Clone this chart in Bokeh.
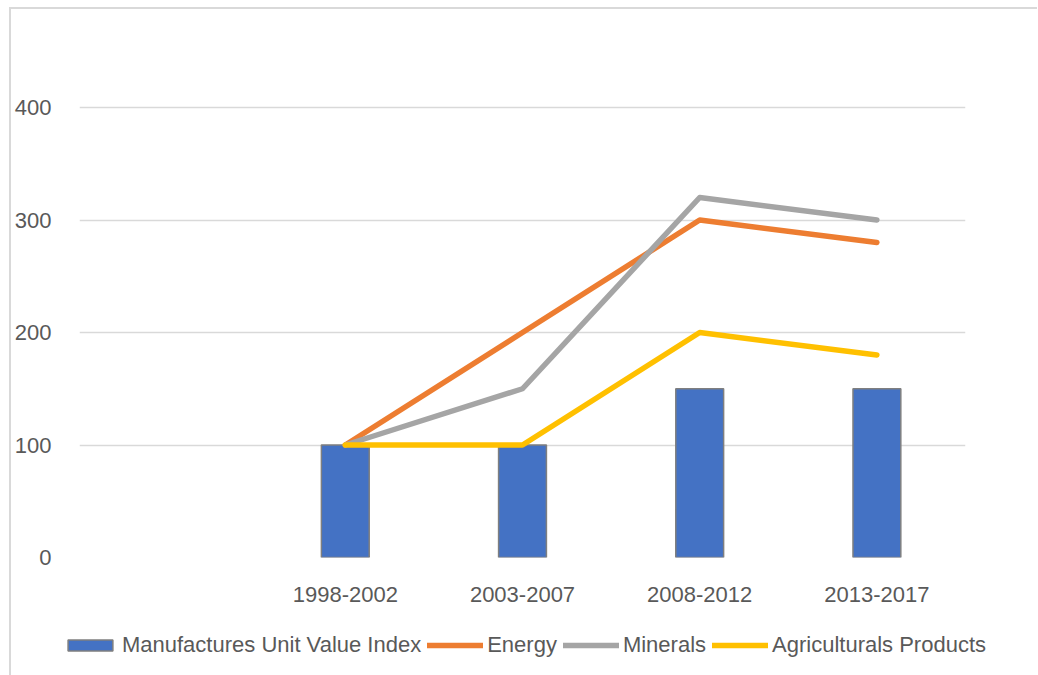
from bokeh.plotting import figure
from bokeh.layouts import column
from bokeh.models import FactorRange, Range1d, FixedTicker, Legend, LegendItem, ColumnDataSource
from bokeh.embed import file_html
from bokeh.resources import INLINE

# ---- data ----
blank = [" "]
periods = ["1998-2002", "2003-2007", "2008-2012", "2013-2017"]
manufactures = [100, 100, 150, 150]
energy = [100, 200, 300, 280]
minerals = [100, 150, 320, 300]
agri = [100, 100, 200, 180]
y_ticks = [0, 100, 200, 300, 400]
series_names = ["Manufactures Unit Value Index", "Energy", "Minerals", "Agriculturals Products"]

FONT = "Liberation Sans"
TXT = "#595959"
W = 1026

src = ColumnDataSource(dict(x=periods, m=manufactures, e=energy, mi=minerals, a=agri))
bar_kw = dict(fill_color="#4472C4", line_color="#7F7F7F", line_width=1.5)
line_kw = dict(line_width=5.5, line_cap="round", line_join="round")


def add_series(fig, bar_width):
    r0 = fig.vbar(x="x", top="m", width=bar_width, source=src, **bar_kw)
    r1 = fig.line("x", "e", source=src, line_color="#ED7D31", **line_kw)
    r2 = fig.line("x", "mi", source=src, line_color="#A5A5A5", **line_kw)
    r3 = fig.line("x", "a", source=src, line_color="#FFC000", **line_kw)
    return [r0, r1, r2, r3]


p = figure(x_range=FactorRange(factors=blank + periods), y_range=Range1d(0, 440),
           width=W, height=605, output_backend="svg", toolbar_location=None,
           min_border_left=67, min_border_right=72, min_border_top=53, min_border_bottom=57)
p.outline_line_color = None
add_series(p, 0.27)

p.yaxis.ticker = FixedTicker(ticks=y_ticks)
p.ygrid.ticker = FixedTicker(ticks=y_ticks)
p.ygrid.grid_line_color = "#d9d9d9"
p.ygrid.grid_line_width = 1.5
p.xgrid.grid_line_color = None

for ax in (p.xaxis[0], p.yaxis[0]):
    ax.axis_line_color = None
    ax.major_tick_line_color = None
    ax.minor_tick_line_color = None
    ax.major_label_text_font = FONT
    ax.major_label_text_font_size = "22px"
    ax.major_label_text_color = TXT
p.yaxis.major_label_standoff = 22
p.xaxis.major_label_standoff = 18

# ---- legend strip (same series, hidden renderers so only the legend shows) ----
lg = figure(x_range=FactorRange(factors=blank + periods), y_range=Range1d(5000, 6000),
            width=W, height=61, frame_width=W, frame_height=61,
            output_backend="svg", toolbar_location=None,
            min_border_left=0, min_border_right=0, min_border_top=0, min_border_bottom=0)
if "frame_align" in lg.properties():
    lg.frame_align = False
lg.axis.visible = False
lg.grid.visible = False
lg.outline_line_color = None
rs = add_series(lg, 0.27)
for r in rs:
    r.visible = False

legend = Legend(items=[LegendItem(label=n, renderers=[r]) for n, r in zip(series_names, rs)],
                orientation="horizontal", location="center")
legend.label_text_font = FONT
legend.label_text_font_size = "22px"
legend.label_text_color = TXT
legend.glyph_width = 56
legend.glyph_height = 14
legend.label_standoff = 4
legend.spacing = 6
legend.padding = 6
legend.margin = 0
legend.border_line_color = None
legend.background_fill_alpha = 0
legend.inactive_fill_alpha = 0
lg.add_layout(legend, "center")

layout = column(p, lg, spacing=0,
                styles={"border-top": "2px solid #d9d9d9", "border-left": "2px solid #d9d9d9",
                        "margin-left": "9px", "margin-top": "7px"})

open("out.html", "w").write(file_html(layout, INLINE))
